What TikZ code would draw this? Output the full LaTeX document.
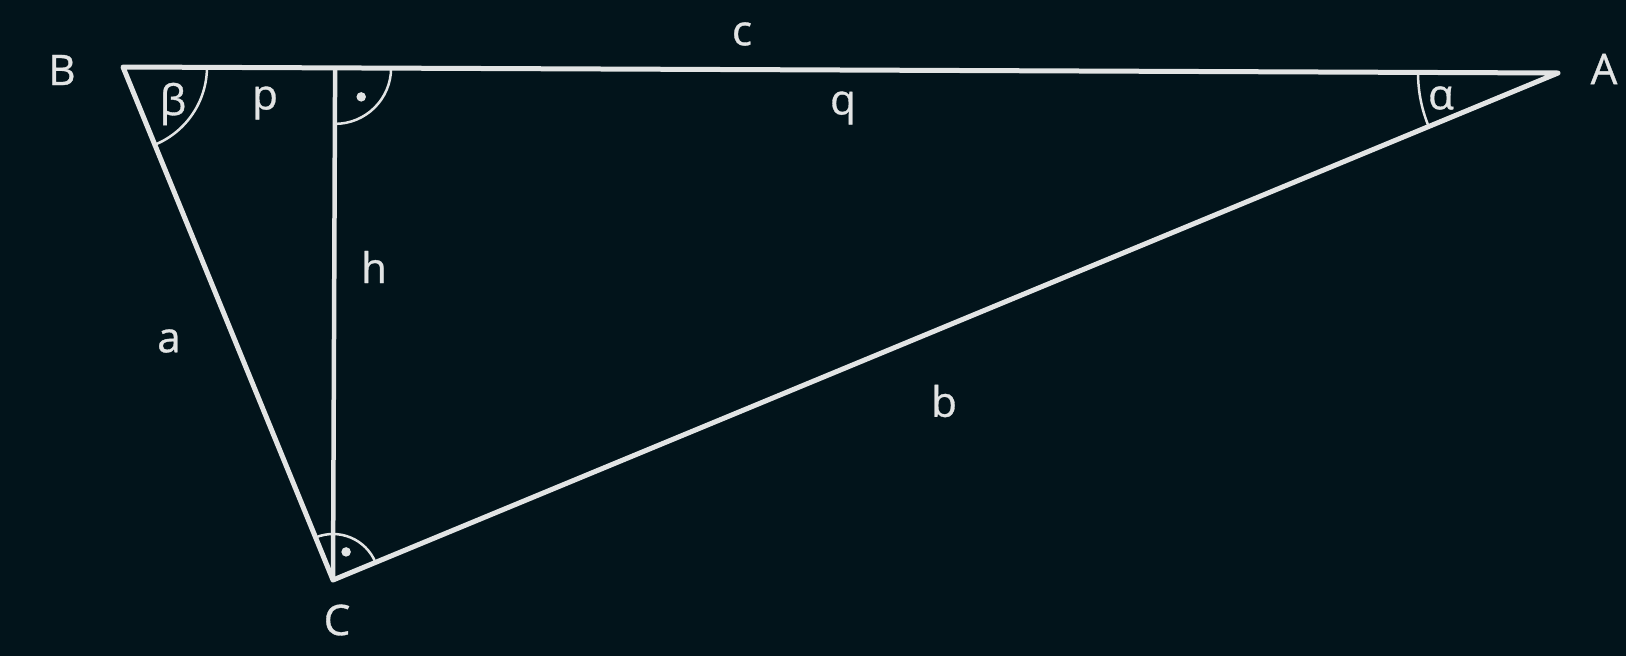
\documentclass[tikz,border=0pt]{standalone}
\usepackage{fontspec}
\setmainfont{Open Sans}
\usepackage{tikz}
\usetikzlibrary{calc, angles}
\definecolor{boarddark}{RGB}{2, 20, 27}
\definecolor{chalk}{RGB}{226, 228, 228}

\begin{document}
\begin{tikzpicture}[x=0.02cm, y=0.02cm,
  side/.style={line width=0.1cm, chalk, line join=round, line cap=round},
  alt/.style={line width=0.09cm, chalk},
  ang/.style={draw=chalk, line width=0.05cm},
  lbl/.style={text=chalk, font=\fontsize{24}{29}\selectfont\addfontfeature{FakeBold=0.8}, inner sep=0pt},
  dotmark/.style={circle, fill=chalk, inner sep=0pt, minimum size=0.19cm}
]
  \fill[boarddark] (0,0) rectangle (1626,-656);
  % vertices and foot of the altitude
  \coordinate (B) at (123,-67);
  \coordinate (A) at (1558,-73);
  \coordinate (C) at (333,-580);
  \coordinate (H) at ($(B)!(C)!(A)$);
  % triangle and altitude
  \draw[side] (B) -- (A) -- (C) -- cycle;
  \draw[alt] (H) -- (C);
  % angle marks
  \pic[ang, angle radius=1.68cm] {angle=C--B--A};
  \pic[ang, angle radius=2.8cm] {angle=B--A--C};
  \pic[ang, angle radius=1.12cm] {angle=C--H--A};
  \pic[ang, angle radius=0.92cm] {angle=A--C--B};
  \node[dotmark] (dotH) at ($(H)+(-48:39)$) {};
  \node[dotmark] (dotC) at ($(C)+(65:31)$) {};
  % labels
  \node[lbl] (lblB) at (62,-70) {B};
  \node[lbl] (lblA) at (1604,-69) {A};
  \node[lbl] (lblC) at (337,-620) {C};
  \node[lbl] (lblc) at (742,-34) {c};
  \node[lbl] (lblp) at (265,-103) {p};
  \node[lbl] (lblq) at (843,-108) {q};
  \node[lbl] (lblh) at (374,-267) {h};
  \node[lbl] (lbla) at (169,-341) {a};
  \node[lbl] (lblb) at (944,-401) {b};
  \node[lbl] (lblbeta) at (173,-104) {β};
  \node[lbl] (lblalpha) at (1441,-98) {α};
\end{tikzpicture}
\end{document}
